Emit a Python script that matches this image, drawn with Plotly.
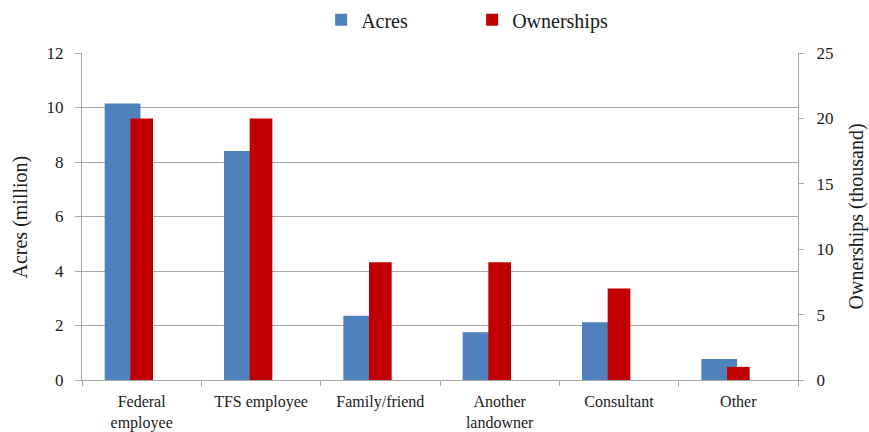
import plotly.graph_objects as go

categories = ["Federal<br>employee", "TFS employee", "Family/friend", "Another<br>landowner", "Consultant", "Other"]
acres_million = [10.15, 8.4, 2.36, 1.75, 2.12, 0.77]
ownerships_thousand = [20, 20, 9, 9, 7, 1]

FONT = "Liberation Serif"
BLUE = "#4F81BD"
RED = "#C00000"
GRID = "#A6A6A6"
TXT = "#1a1a1a"

fig = go.Figure()
fig.add_trace(go.Bar(
    x=categories, y=acres_million, name="Acres", yaxis="y",
    marker=dict(color=BLUE, line=dict(width=0)),
    width=0.30, offset=-0.31,
))
fig.add_trace(go.Bar(
    x=categories, y=ownerships_thousand, name="Ownerships", yaxis="y2",
    marker=dict(color=RED, line=dict(width=0)),
    width=0.19, offset=-0.095,
))

fig.update_layout(
    width=869, height=432,
    paper_bgcolor="white", plot_bgcolor="white",
    margin=dict(l=82, r=71, t=53, b=52, autoexpand=False),
    barmode="overlay",
    font=dict(family=FONT, color=TXT, size=15),
    showlegend=True,
    legend=dict(
        orientation="h", x=0.334, xanchor="left",
        yref="container", y=0.954, yanchor="middle",
        font=dict(size=20, family=FONT), entrywidth=106, entrywidthmode="pixels",
        traceorder="normal", bgcolor="rgba(0,0,0,0)",
    ),
    xaxis=dict(
        type="category", showgrid=False, showline=True, linecolor=GRID, linewidth=1,
        ticks="outside", tickson="boundaries", ticklen=5, tickcolor=GRID,
        tickfont=dict(size=16, family=FONT), range=[-0.5, 5.5], automargin=False,
        ticklabelstandoff=7,
    ),
    yaxis=dict(
        range=[0, 12], dtick=2, showgrid=True, gridcolor=GRID, gridwidth=1,
        showline=True, linecolor=GRID, ticks="outside", ticklen=6, tickcolor=GRID,
        zeroline=False, tickfont=dict(size=17, family=FONT), automargin=False,
        ticklabelstandoff=8,
    ),
    yaxis2=dict(
        range=[0, 25], dtick=5, overlaying="y", side="right", showgrid=False,
        showline=True, linecolor=GRID, ticks="outside", ticklen=5, tickcolor=GRID,
        zeroline=False, tickfont=dict(size=17, family=FONT), automargin=False,
        ticklabelstandoff=9,
    ),
    annotations=[
        dict(text="Acres (million)", textangle=-90, xref="paper", yref="paper",
             x=(20 - 82) / 716, y=0.5, xanchor="center", yanchor="middle", showarrow=False,
             font=dict(size=20, family=FONT, color=TXT)),
        dict(text="Ownerships (thousand)", textangle=-90, xref="paper", yref="paper",
             x=(856 - 82) / 716, y=0.5, xanchor="center", yanchor="middle", showarrow=False,
             font=dict(size=20, family=FONT, color=TXT)),
    ],
)

fig.write_html("out.html", config={"displayModeBar": False},
               post_script="document.body.style.margin='0';")
